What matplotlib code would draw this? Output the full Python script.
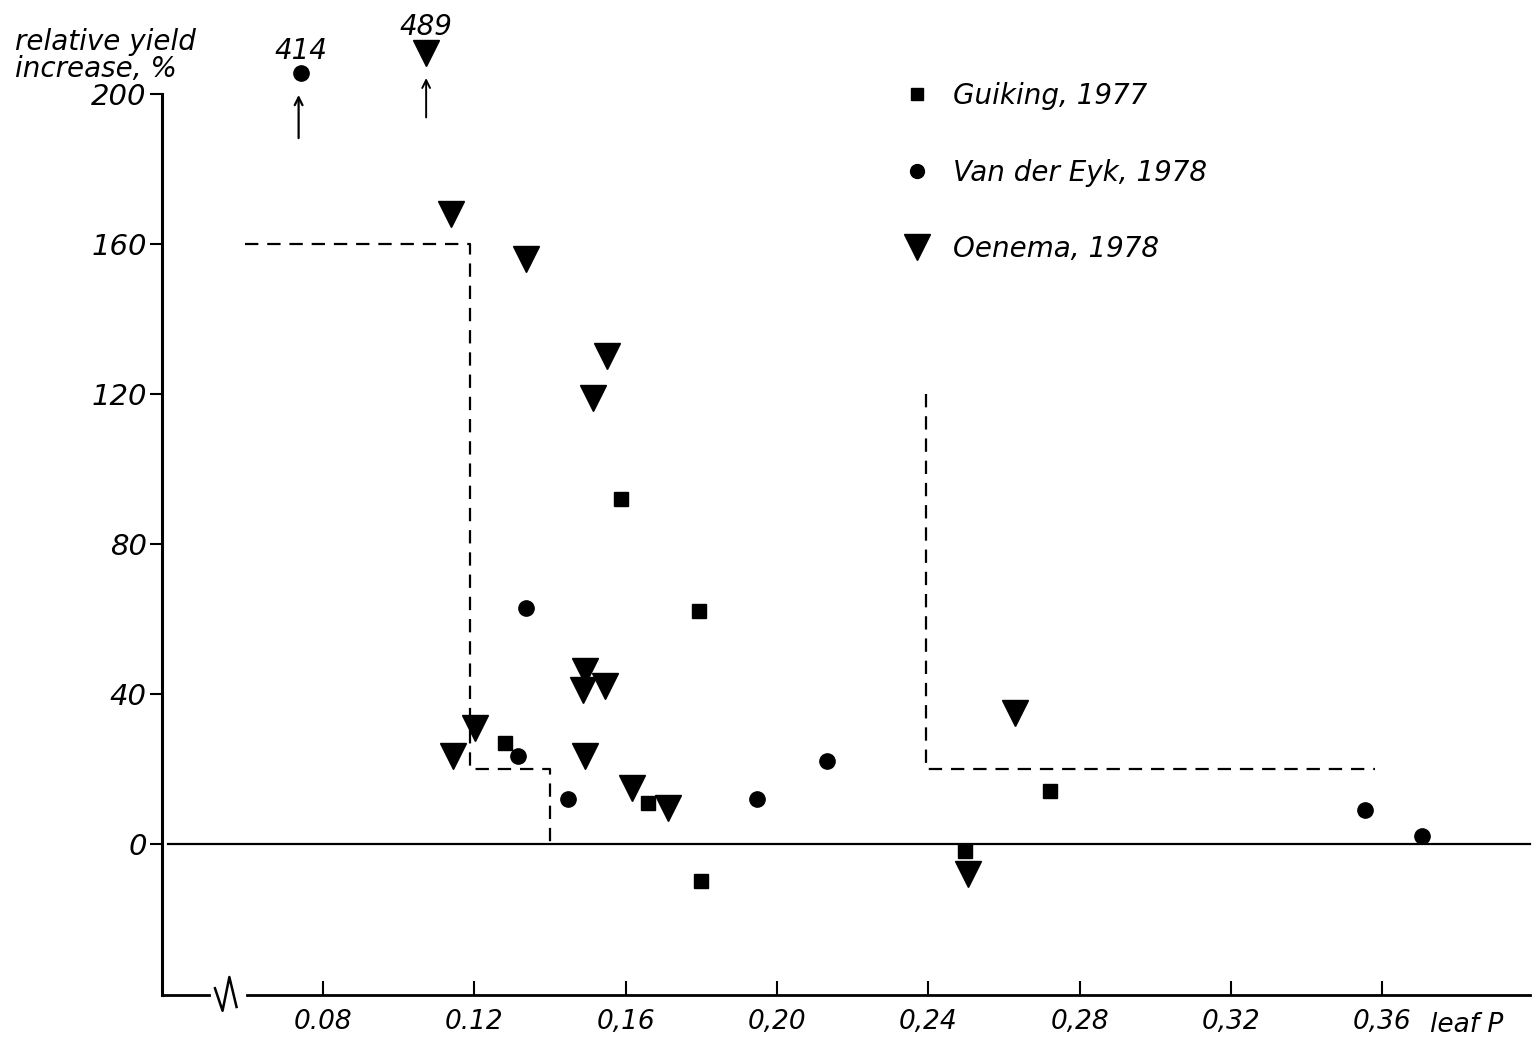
import matplotlib
matplotlib.use("Agg")
import matplotlib.pyplot as plt
from matplotlib.lines import Line2D

# Guiking, 1977 (squares)
guiking_p = [0.1588, 0.1794, 0.1282, 0.1659, 0.1799, 0.2498, 0.2722]
guiking_y = [92, 62, 27, 11, -10, -2, 14]

# Van der Eyk, 1978 (circles)
eyk_p = [0.1337, 0.1316, 0.1448, 0.1947, 0.2131, 0.3554, 0.3704]
eyk_y = [63, 23.5, 12, 12, 22, 9, 2]

# Oenema, 1978 (triangles)
oenema_p = [0.1139, 0.1337, 0.1550, 0.1514, 0.1493, 0.1488, 0.1546,
            0.1203, 0.1145, 0.1493, 0.1617, 0.1712, 0.2630, 0.2506]
oenema_y = [168, 156, 130, 119, 46, 41, 42, 31, 23.5, 23.5, 15, 9.5, 35, -8]

# off-scale values (drawn above the axis with an arrow)
eyk_off_p, eyk_off_val = 0.0741, 414
oenema_off_p, oenema_off_val = 0.1073, 489

# dashed boundary lines
bound1_p = [0.0594, 0.1188, 0.1188, 0.1399, 0.1399]
bound1_y = [160, 160, 20, 20, 0]
bound2_p = [0.2394, 0.2394, 0.3581]
bound2_y = [120, 20, 20]

xticks = [0.08, 0.12, 0.16, 0.20, 0.24, 0.28, 0.32, 0.36]
xtick_labels = ["0.08", "0.12", "0,16", "0,20", "0,24", "0,28", "0,32", "0,36"]
yticks = [0, 40, 80, 120, 160, 200]

XMIN, XMAX = 0.0375, 0.399
YMIN, YMAX = -40.3, 200

plt.rcParams['font.family'] = ['DejaVu Sans']
plt.rcParams['font.style'] = 'italic'

fig = plt.figure(figsize=(15.39, 10.49), dpi=100)
ax = fig.add_axes([162 / 1539, (1049 - 995) / 1049, (1530 - 162) / 1539, (995 - 94) / 1049])
ax.set_xlim(XMIN, XMAX)
ax.set_ylim(YMIN, YMAX)

for s in ['top', 'right', 'bottom']:
    ax.spines[s].set_visible(False)
ax.spines['left'].set_linewidth(2.2)

ax.set_yticks(yticks)
ax.set_yticklabels([str(v) for v in yticks], fontsize=21, style='italic')
ax.tick_params(axis='y', direction='out', length=9, width=1.5, pad=2)
ax.set_xticks(xticks)
ax.set_xticklabels(xtick_labels, fontsize=19, style='italic')
ax.tick_params(axis='x', direction='in', length=10, width=1.5, pad=10)

# bottom axis with break symbol
ax.plot([XMIN, 0.0500], [YMIN, YMIN], color='black', lw=2, clip_on=False)
ax.plot([0.0600, XMAX], [YMIN, YMIN], color='black', lw=2, clip_on=False)
ax.plot([0.0515, 0.0535, 0.0553, 0.0572], [-38.5, -44.5, -35.5, -43.5],
        color='black', lw=1.8, clip_on=False)

# zero line
ax.plot([0.039, XMAX], [0, 0], color='black', lw=1.6, clip_on=False)

# dashed boundaries
ax.plot(bound1_p, bound1_y, color='black', lw=1.6, ls=(0, (6, 4)))
ax.plot(bound2_p, bound2_y, color='black', lw=1.6, ls=(0, (6, 4)))

# data
ax.plot(guiking_p, guiking_y, ls='none', marker='s', ms=10, color='black')
ax.plot(eyk_p, eyk_y, ls='none', marker='o', ms=11, color='black')
ax.plot(oenema_p, oenema_y, ls='none', marker='v', ms=19, color='black')

# off-scale points
ax.plot([eyk_off_p], [205.5], ls='none', marker='o', ms=11, color='black', clip_on=False)
ax.text(eyk_off_p, 207.8, str(eyk_off_val), ha='center', va='bottom', fontsize=20)
ax.annotate('', xy=(eyk_off_p - 0.0005, 200.5), xytext=(eyk_off_p - 0.0005, 187.5),
            arrowprops=dict(arrowstyle='->', lw=1.6, color='black', mutation_scale=14),
            annotation_clip=False)
ax.plot([oenema_off_p], [211], ls='none', marker='v', ms=19, color='black', clip_on=False)
ax.text(oenema_off_p, 214.2, str(oenema_off_val), ha='center', va='bottom', fontsize=20)
ax.annotate('', xy=(oenema_off_p, 205), xytext=(oenema_off_p, 193),
            arrowprops=dict(arrowstyle='->', lw=1.4, color='black', mutation_scale=14),
            annotation_clip=False)

# axis labels
fig.text(15 / 1539, 1 - 28 / 1049, "relative yield\nincrease, %", ha='left', va='top',
         fontsize=20, linespacing=0.95)
ax.text(0.3726, YMIN - 4.5, "leaf P", ha='left', va='top', fontsize=19)

# legend
handles = [
    Line2D([], [], ls='none', marker='s', ms=9, color='black'),
    Line2D([], [], ls='none', marker='o', ms=10, color='black'),
    Line2D([], [], ls='none', marker='v', ms=19, color='black'),
]
labels = ["Guiking, 1977", "Van der Eyk, 1978", "Oenema, 1978"]
fig.legend(handles, labels, loc='upper left', bbox_to_anchor=(900 / 1539, 1 - 82 / 1049),
           frameon=False, fontsize=20, labelspacing=1.75, handlelength=1.2,
           handletextpad=0.7, borderpad=0, borderaxespad=0)

fig.savefig("out.png", dpi=100)
